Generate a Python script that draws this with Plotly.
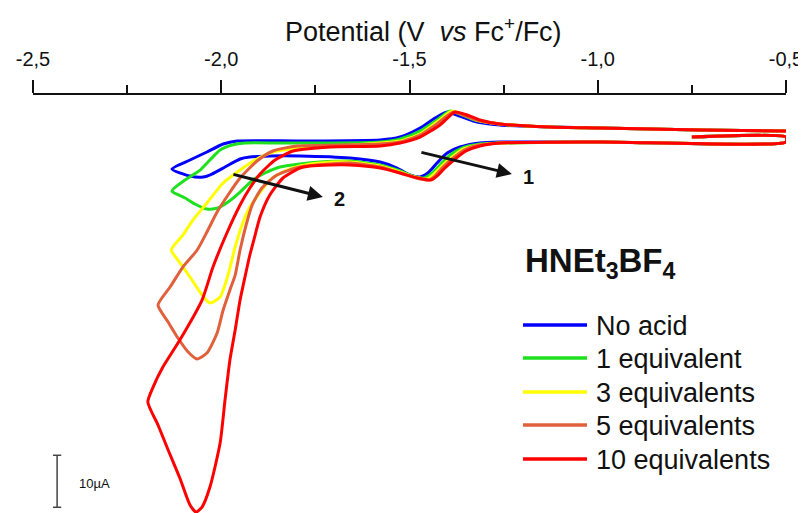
import plotly.graph_objects as go

# ---------------- data (potential in V vs Fc+/Fc, current in uA) ----------------
start_v = [-0.75, -0.50]
start_i = [0.0, 0.0]

noacid_v = [-0.500, -0.994, -1.260, -1.313, -1.366, -1.400, -1.427, -1.451, -1.472, -1.499,
            -1.533, -1.578, -1.658, -1.791, -1.871, -1.924, -1.950, -1.990, -2.025, -2.048,
            -2.083, -2.131,
            -2.083, -2.038, -1.995, -1.958, -1.791, -1.578, -1.525, -1.472, -1.432, -1.400,
            -1.374, -1.331, -1.260, -1.127, -0.994, -0.728, -0.500]
noacid_i = [-0.96, -0.96, -0.96, -1.15, -1.92, -3.08, -5.00, -6.92, -7.69, -7.31,
            -5.96, -4.81, -4.04, -3.65, -3.65, -3.85, -4.23, -5.77, -7.12, -7.69,
            -7.50, -6.15,
            -4.42, -2.88, -1.35, -0.77, -0.77, -0.58, 0.00, 1.73, 3.65, 4.81,
            4.23, 3.08, 2.31, 1.92, 1.73, 1.35, 1.15]

eq1_v = [-0.500, -0.994, -1.260, -1.313, -1.361, -1.392, -1.419, -1.440, -1.461, -1.493,
         -1.525, -1.578, -1.658, -1.738, -1.791, -1.844, -1.884, -1.916, -1.950, -1.982,
         -2.009, -2.038, -2.070, -2.096, -2.131,
         -2.096, -2.056, -2.030, -2.003, -1.971, -1.937, -1.844, -1.711, -1.578, -1.525,
         -1.472, -1.427, -1.392, -1.366, -1.326, -1.260, -1.127, -0.994, -0.728, -0.500]
eq1_i = [-0.96, -0.96, -1.15, -1.35, -2.12, -3.46, -5.38, -6.92, -7.88, -7.50,
         -6.54, -5.38, -4.62, -4.81, -5.19, -5.77, -6.92, -8.27, -10.58, -12.50,
         -13.65, -13.85, -12.88, -11.73, -10.38,
         -8.27, -6.35, -4.42, -2.50, -1.54, -1.15, -1.15, -1.15, -0.96, -0.38,
         1.15, 3.27, 5.00, 4.42, 3.27, 2.50, 1.92, 1.73, 1.35, 1.15]

eq3_v = [-0.500, -0.994, -1.260, -1.313, -1.358, -1.387, -1.414, -1.435, -1.454, -1.485,
         -1.525, -1.578, -1.658, -1.738, -1.791, -1.831, -1.871, -1.902, -1.924, -1.942,
         -1.963, -1.982, -2.003, -2.030, -2.051, -2.083, -2.115, -2.133,
         -2.102, -2.075, -2.038, -1.995, -1.950, -1.910, -1.863, -1.791, -1.685, -1.578,
         -1.525, -1.472, -1.427, -1.387, -1.361, -1.323, -1.260, -1.127, -0.994, -0.728, -0.500]
eq3_i = [-0.96, -0.96, -1.15, -1.54, -2.31, -3.85, -5.58, -7.12, -8.08, -7.69,
         -6.73, -5.58, -4.81, -5.00, -5.58, -6.54, -8.27, -11.15, -13.46, -16.35,
         -21.15, -26.54, -30.77, -31.92, -30.38, -26.92, -23.65, -21.73,
         -18.85, -15.96, -12.69, -8.85, -6.35, -4.42, -2.88, -2.12, -1.73, -1.15,
         -0.77, 0.58, 2.88, 5.00, 4.42, 3.27, 2.50, 1.92, 1.73, 1.35, 1.15]

eq5_v = [-0.500, -0.994, -1.260, -1.313, -1.355, -1.384, -1.411, -1.430, -1.448, -1.483,
         -1.525, -1.578, -1.658, -1.711, -1.791, -1.852, -1.892, -1.918, -1.934, -1.950,
         -1.963, -1.977, -1.995, -2.011, -2.038, -2.064, -2.088, -2.115, -2.141, -2.168,
         -2.136, -2.102, -2.064, -2.038, -2.011, -1.982, -1.950, -1.905, -1.863, -1.799,
         -1.685, -1.578, -1.525, -1.472, -1.424, -1.384, -1.358, -1.321, -1.260, -1.127,
         -0.994, -0.728, -0.500]
eq5_i = [-0.96, -0.96, -1.15, -1.54, -2.50, -4.04, -5.77, -7.31, -8.27, -7.88,
         -6.92, -5.77, -5.00, -5.19, -5.77, -7.31, -9.81, -13.08, -16.92, -21.73,
         -26.54, -29.42, -33.27, -37.69, -41.54, -42.69, -41.35, -38.65, -35.58, -32.31,
         -28.85, -25.00, -21.73, -18.27, -14.42, -11.15, -7.88, -4.62, -2.69, -1.73,
         -1.54, -1.35, -0.96, 0.38, 2.69, 4.81, 4.23, 3.27, 2.50, 1.92,
         1.73, 1.35, 1.15]

eq10_v = [-0.500, -0.994, -1.260, -1.313, -1.350, -1.379, -1.406, -1.424, -1.443, -1.477,
          -1.525, -1.578, -1.658, -1.711, -1.764, -1.791, -1.836, -1.871, -1.897, -1.910,
          -1.924, -1.937, -1.950, -1.963, -1.977, -1.990, -2.003, -2.030, -2.051, -2.067,
          -2.083, -2.110, -2.141, -2.168, -2.195,
          -2.181, -2.155, -2.110, -2.051, -2.022, -1.985, -1.950, -1.924, -1.897, -1.857,
          -1.809, -1.711, -1.578, -1.525, -1.472, -1.419, -1.379, -1.347, -1.313, -1.260,
          -1.127, -0.994, -0.728, -0.500]
eq10_i = [-0.96, -0.96, -1.15, -1.73, -2.69, -4.23, -5.96, -7.31, -8.27, -7.88,
          -6.92, -5.96, -5.38, -5.38, -5.58, -5.96, -7.88, -11.15, -15.38, -18.85,
          -22.69, -26.92, -31.35, -37.12, -42.88, -50.58, -58.85, -67.31, -71.15, -72.12,
          -70.77, -65.58, -60.19, -55.38, -50.96,
          -48.08, -44.23, -39.04, -31.35, -25.00, -18.46, -13.08, -9.81, -7.12, -4.42,
          -2.69, -1.92, -1.73, -1.15, 0.00, 2.31, 4.81, 4.23, 3.27, 2.50,
          1.92, 1.73, 1.35, 1.15]

series_names = ["No acid", "1 equivalent", "3 equivalents", "5 equivalents", "10 equivalents"]
series_colors = ["#0000FF", "#1FE01F", "#FFFF00", "#E0603C", "#FF0000"]
series_v = [noacid_v, eq1_v, eq3_v, eq5_v, eq10_v]
series_i = [noacid_i, eq1_i, eq3_i, eq5_i, eq10_i]

tick_vals = [-2.5, -2.0, -1.5, -1.0, -0.5]
tick_text = ["-2,5", "-2,0", "-1,5", "-1,0", "-0,5"]
minor_vals = [-2.25, -1.75, -1.25, -0.75]

# ---------------- figure ----------------
# the page body has an 8 px margin, so the figure is 8 px smaller and offset
OFF = 8
W, H = 806 - OFF, 513 - OFF
ML, MR, MT, MB = 33 - OFF, 20, 95 - OFF, 0
FONT = "Liberation Sans, Arial, sans-serif"


def pxx(x):
    # page pixel x -> paper coordinate
    return (x - OFF - ML) / (W - ML - MR)


def pxy(y):
    # page pixel y -> paper coordinate
    return (H - MB - (y - OFF)) / (H - MT - MB)


fig = go.Figure()
for name, col, v, i in zip(series_names, series_colors, series_v, series_i):
    fig.add_trace(go.Scatter(x=start_v + v, y=start_i + i, mode="lines", name=name,
                             line=dict(color=col, width=3, shape="spline", smoothing=0.6),
                             showlegend=False, hoverinfo="skip"))

shapes = []
annotations = []

# axis title (placed as annotation to match its position)
annotations.append(dict(xref="paper", yref="paper", x=pxx(423), y=pxy(30),
                        text="Potential (V  <i>vs</i> Fc<sup>+</sup>/Fc)", showarrow=False,
                        xanchor="center", yanchor="middle",
                        font=dict(family=FONT, size=27, color="#111")))

# custom legend
legend_y = [325, 358, 392, 425, 459]
for name, col, yy in zip(series_names, series_colors, legend_y):
    shapes.append(dict(type="line", xref="paper", yref="paper", x0=pxx(523), x1=pxx(587),
                       y0=pxy(yy), y1=pxy(yy), line=dict(color=col, width=3.5)))
    annotations.append(dict(xref="paper", yref="paper", x=pxx(594), y=pxy(yy + 1), text=name,
                            showarrow=False, xanchor="left", yanchor="middle",
                            font=dict(family=FONT, size=27, color="#111")))
annotations.append(dict(xref="paper", yref="paper", x=pxx(523), y=pxy(263),
                        text="<b>HNEt<sub>3</sub>BF<sub>4</sub></b>", showarrow=False,
                        xanchor="left", yanchor="middle",
                        font=dict(family=FONT, size=33, color="#111")))

# scale bar 10 uA
bar_x = -2.436
bar_top, bar_bot = -61.2, -71.2
shapes.append(dict(type="line", xref="x", yref="y", x0=bar_x, x1=bar_x, y0=bar_bot, y1=bar_top,
                   line=dict(color="#444", width=1.5)))
for yy in (bar_top, bar_bot):
    shapes.append(dict(type="line", xref="x", yref="y", x0=bar_x - 0.011, x1=bar_x + 0.011,
                       y0=yy, y1=yy, line=dict(color="#444", width=1.5)))
annotations.append(dict(xref="paper", yref="paper", x=pxx(77), y=pxy(483), text="10µA",
                        showarrow=False, xanchor="left", yanchor="middle",
                        font=dict(family=FONT, size=13, color="#111")))

# arrows and labels
annotations.append(dict(x=-1.228, y=-7.12, ax=-92, ay=-22, xref="x", yref="y",
                        showarrow=True, arrowhead=2, arrowsize=1, arrowwidth=3,
                        arrowcolor="#111", text=""))
annotations.append(dict(x=-1.730, y=-11.54, ax=-91, ay=-23, xref="x", yref="y",
                        showarrow=True, arrowhead=2, arrowsize=1, arrowwidth=3,
                        arrowcolor="#111", text=""))
annotations.append(dict(x=-1.183, y=-7.69, xref="x", yref="y", text="<b>1</b>", showarrow=False,
                        font=dict(family=FONT, size=20, color="#111")))
annotations.append(dict(x=-1.685, y=-11.92, xref="x", yref="y", text="<b>2</b>", showarrow=False,
                        font=dict(family=FONT, size=20, color="#111")))

fig.update_layout(
    width=W, height=H,
    margin=dict(l=ML, r=MR, t=MT, b=MB, autoexpand=False),
    paper_bgcolor="white", plot_bgcolor="white",
    font=dict(family=FONT, color="#111"),
    shapes=shapes, annotations=annotations,
    showlegend=False,
    xaxis=dict(
        side="top", range=[-2.5, -0.5], showgrid=False, zeroline=False,
        showline=True, linecolor="#111", linewidth=2,
        ticks="outside", ticklen=13, tickwidth=2, tickcolor="#111",
        tickvals=tick_vals, ticktext=tick_text,
        tickfont=dict(family=FONT, size=20, color="#111"),
        ticklabelstandoff=6,
        minor=dict(tickvals=minor_vals, ticks="outside", ticklen=8, tickwidth=2, tickcolor="#111"),
        automargin=False,
    ),
    yaxis=dict(range=[-72.3, 8.08], visible=False, showgrid=False, zeroline=False),
)

fig.write_html("out.html")
